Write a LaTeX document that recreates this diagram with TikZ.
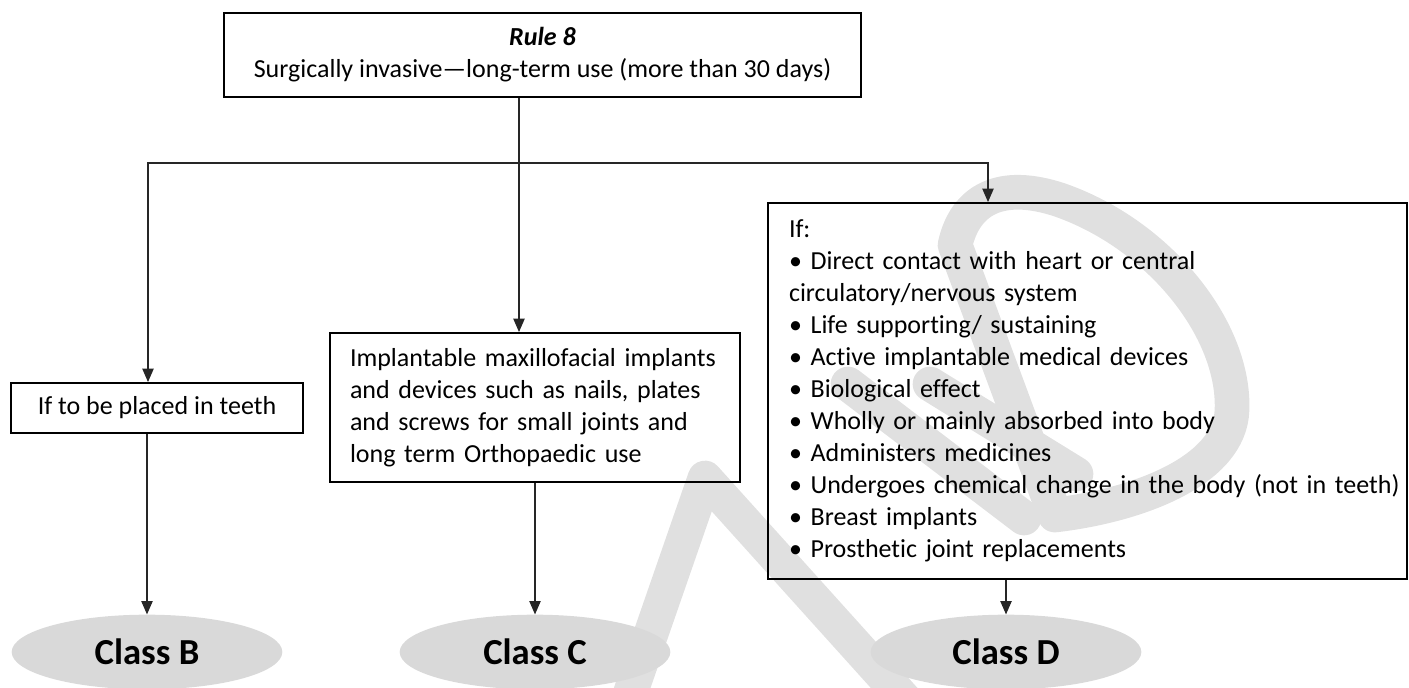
\documentclass[tikz,border=0pt]{standalone}
\usepackage{fontspec}
\setmainfont{Carlito}[Ligatures=NoCommon]
\usetikzlibrary{arrows.meta,shapes.geometric}
\definecolor{ellfill}{HTML}{D9D9D9}
\definecolor{wmgrey}{HTML}{E0E0E0}
\begin{document}
\begin{tikzpicture}[x=0.75pt,y=-0.75pt,
  box/.style={draw=black, line width=1.5pt, rectangle, inner sep=0pt,
    font=\fontsize{19.5}{24}\selectfont},
  cls/.style={ellipse, fill=ellfill, draw=none, minimum width=203pt, minimum height=56pt,
    inner sep=0pt, font=\fontsize{27.5}{30}\selectfont\bfseries},
  conn/.style={line width=0.8pt, draw=black!85},
  arr/.style={conn, -{Triangle[length=10pt,width=8.5pt]}},
  wm/.style={draw=wmgrey, line width=26pt, line cap=round, line join=round},
]
\useasboundingbox (0,0) rectangle (1409,687);
% watermark shapes
\begin{scope}
  \clip (0,0) rectangle (1409,687);
  \draw[wm] (1055,515) -- (955,245) .. controls (965,200) and (1000,180) .. (1060,200)
     .. controls (1160,235) and (1235,330) .. (1232,410)
     .. controls (1230,470) and (1140,505) .. cycle;
  \draw[wm] (628,700) -- (705,478) -- (905,700);
  \draw[wm] (848,384) -- (1024,518);
  \draw[wm] (930,384) -- (1076,474);
\end{scope}
% boxes
\node[box, minimum width=477.75pt, minimum height=63pt, align=center] (top) at (542.5,55)
  {\textbf{\textit{Rule 8}}\\Surgically invasive—long-term use (more than 30 days)};
\node[box, minimum width=219pt, minimum height=37.5pt] (bbox) at (157,408) {If to be placed in teeth};
\node[box, minimum width=307.5pt, minimum height=111.75pt, inner xsep=15pt,
      text width=277.5pt, align=left] (cbox) at (535,407.5)
  {\mbox{Implantable maxillofacial implants}\\\mbox{and devices such as nails, plates}\\\mbox{and screws for small joints and}\\\mbox{long term Orthopaedic use}};
\node[box, minimum width=479.25pt, minimum height=282pt, inner xsep=15.75pt,
      text width=447.75pt, align=left] (dbox) at (1087.5,391)
  {If:\\\mbox{• Direct contact with heart or central}\\\mbox{circulatory/nervous system}\\\mbox{• Life supporting/ sustaining}\\\mbox{• Active implantable medical devices}\\\mbox{• Biological effect}\\\mbox{• Wholly or mainly absorbed into body}\\\mbox{• Administers medicines}\\\mbox{• Undergoes chemical change in the body (not in teeth)}\\\mbox{• Breast implants}\\\mbox{• Prosthetic joint replacements}};
% class ellipses
\node[cls] (classB) at (147,652) {Class B};
\node[cls] (classC) at (535,652) {Class C};
\node[cls] (classD) at (1006,652) {Class D};
% connectors
\coordinate (split) at (519,163);
\coordinate (lb) at (148,163);
\coordinate (ld) at (988,163);
\draw[conn] (top.south -| split) -- (split);
\draw[arr] (split) -- (cbox.north -| split);
\draw[arr] (split) -- (lb) -- (lb |- bbox.north);
\draw[arr] (split) -- (ld) -- (ld |- dbox.north);
\draw[arr] (classB.north |- bbox.south) -- (classB.north);
\draw[arr] (classC.north |- cbox.south) -- (classC.north);
\draw[arr] (classD.north |- dbox.south) -- (classD.north);
\end{tikzpicture}
\end{document}
